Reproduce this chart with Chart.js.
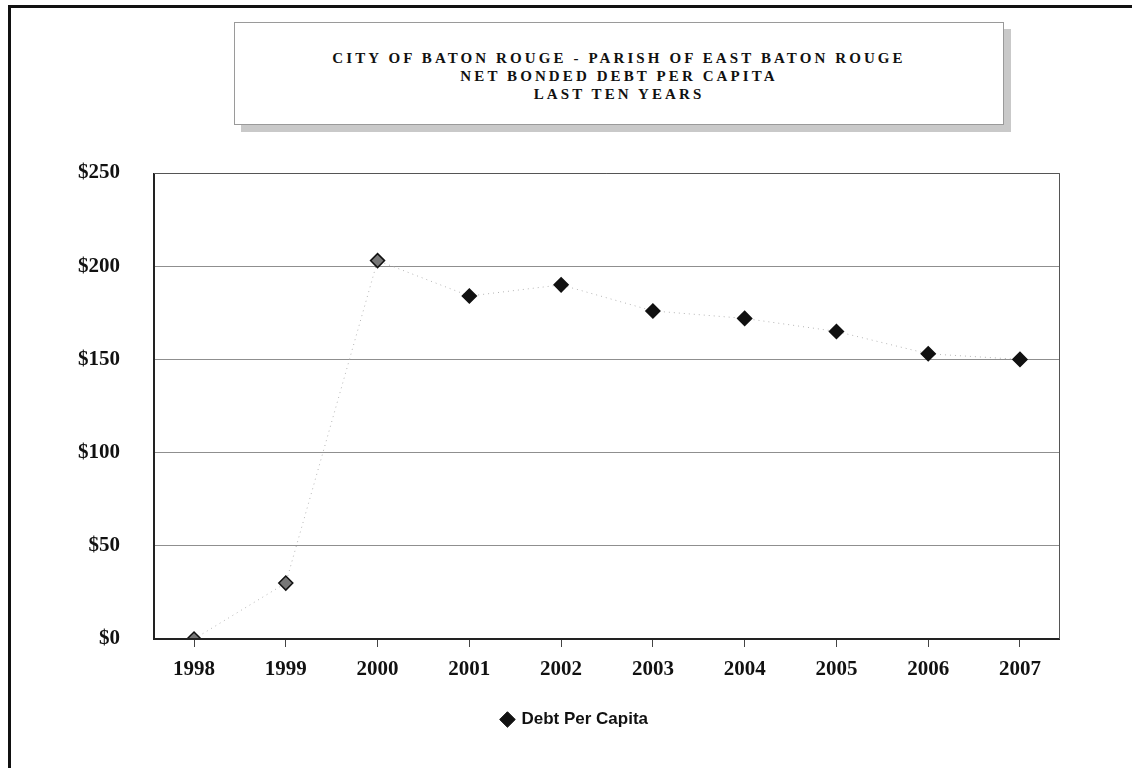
<!DOCTYPE html>
<html>
<head>
<meta charset="utf-8">
<script src="https://cdn.jsdelivr.net/npm/chart.js@4.4.0/dist/chart.umd.min.js"></script>
<style>
  html, body { margin: 0; padding: 0; background: #fff; }
  #page { position: relative; width: 1132px; height: 768px; overflow: hidden; }
  #frame { position: absolute; left: 8px; top: 5px; right: -10px; bottom: -10px;
           border-left: 3px solid #111; border-top: 3px solid #111; }
  #titleBox { position: absolute; left: 234px; top: 22px; width: 770px; height: 103px;
              border: 1px solid #9a9a9a; box-shadow: 7px 7px 0 #c9c9c9; background: #fff;
              text-align: center; font-family: "Liberation Serif", serif; font-weight: bold;
              font-size: 15px; letter-spacing: 3.1px; line-height: 18px; color: #111;
              padding-top: 26px; box-sizing: border-box; }
  #c { position: absolute; left: 0; top: 0; }
</style>
</head>
<body>
<div id="page">
  <div id="frame"></div>
  <div id="titleBox">
    CITY OF BATON ROUGE - PARISH OF EAST BATON ROUGE<br>
    NET BONDED DEBT PER CAPITA<br>
    LAST TEN YEARS
  </div>
  <canvas id="c" width="1132" height="768"></canvas>
</div>
<script>
  // dados
  const anos = [1998, 1999, 2000, 2001, 2002, 2003, 2004, 2005, 2006, 2007];
  const debtPerCapita = [0, 30, 203, 184, 190, 176, 172, 165, 153, 150];
  const yTicks = [0, 50, 100, 150, 200, 250];
  const serieNome = "Debt Per Capita";

  const cores = {
    texto: "#111",
    grade: "#8f8f8f",
    linha: "#b5b5b5"
  };

  const serif = "'Liberation Serif', 'Times New Roman', serif";

  // bordas da área do gráfico (esquerda grossa, direita fina)
  const bordaPlot = {
    id: "bordaPlot",
    afterLayout(chart) {
      // legenda um pouco deslocada para a direita, como no original
      if (chart.legend) chart.legend.left += 90;
    },
    afterDatasetsDraw(chart) {
      const { ctx, chartArea: a } = chart;
      ctx.save();
      ctx.strokeStyle = "#222";
      ctx.lineWidth = 2;
      ctx.beginPath();
      ctx.moveTo(a.left, a.top);
      ctx.lineTo(a.left, a.bottom);
      ctx.lineTo(a.right, a.bottom);
      ctx.stroke();
      ctx.lineWidth = 1;
      ctx.strokeStyle = "#555";
      ctx.beginPath();
      ctx.moveTo(a.left, a.top + 0.5);
      ctx.lineTo(a.right - 0.5, a.top + 0.5);
      ctx.lineTo(a.right - 0.5, a.bottom);
      ctx.stroke();
      ctx.restore();
    }
  };

  const ctx = document.getElementById("c").getContext("2d");
  new Chart(ctx, {
    type: "line",
    data: {
      datasets: [{
        label: serieNome,
        data: anos.map((a, i) => ({ x: a, y: debtPerCapita[i] })),
        borderColor: cores.linha,
        borderWidth: 1,
        borderDash: [1, 4],
        pointStyle: "rectRot",
        pointRadius: 7,
        pointHoverRadius: 7,
        pointBackgroundColor: anos.map((_, i) => i < 3 ? "#777" : "#111"),
        pointBorderColor: "#111",
        pointBorderWidth: 1.5,
        clip: 0,
        fill: false,
        tension: 0
      }]
    },
    options: {
      responsive: false,
      animation: false,
      layout: { padding: { left: 0, right: 72, top: 173, bottom: 30 } },
      plugins: {
        title: { display: false },
        tooltip: { enabled: false },
        legend: {
          position: "bottom",
          labels: {
            usePointStyle: true,
            pointStyle: "rectRot",
            boxWidth: 11,
            boxHeight: 11,
            padding: 10,
            color: cores.texto,
            font: { family: "'Liberation Sans', Arial, sans-serif", weight: "bold", size: 17 },
            generateLabels: () => [{
              text: serieNome,
              fillStyle: "#111",
              strokeStyle: "#111",
              lineWidth: 1,
              pointStyle: "rectRot",
              fontColor: cores.texto
            }]
          }
        }
      },
      scales: {
        x: {
          type: "linear",
          min: anos[0] - 0.436,
          max: anos[anos.length - 1] + 0.436,
          afterBuildTicks: s => { s.ticks = anos.map(v => ({ value: v })); },
          afterFit: s => { s.height = 62; },
          grid: { drawOnChartArea: false, drawTicks: true, tickLength: 8, color: "#444" },
          border: { display: false },
          ticks: {
            color: cores.texto,
            padding: 10,
            font: { family: serif, weight: "bold", size: 21 },
            callback: v => String(v)
          }
        },
        y: {
          min: 0,
          max: 250,
          afterBuildTicks: s => { s.ticks = yTicks.map(v => ({ value: v })); },
          afterFit: s => { s.width = 154; },
          grid: { color: cores.grade, lineWidth: 1, drawTicks: false },
          border: { display: false },
          ticks: {
            color: cores.texto,
            padding: 34,
            font: { family: serif, weight: "bold", size: 21 },
            callback: v => "$" + v
          }
        }
      }
    },
    plugins: [bordaPlot]
  });
</script>
</body>
</html>
